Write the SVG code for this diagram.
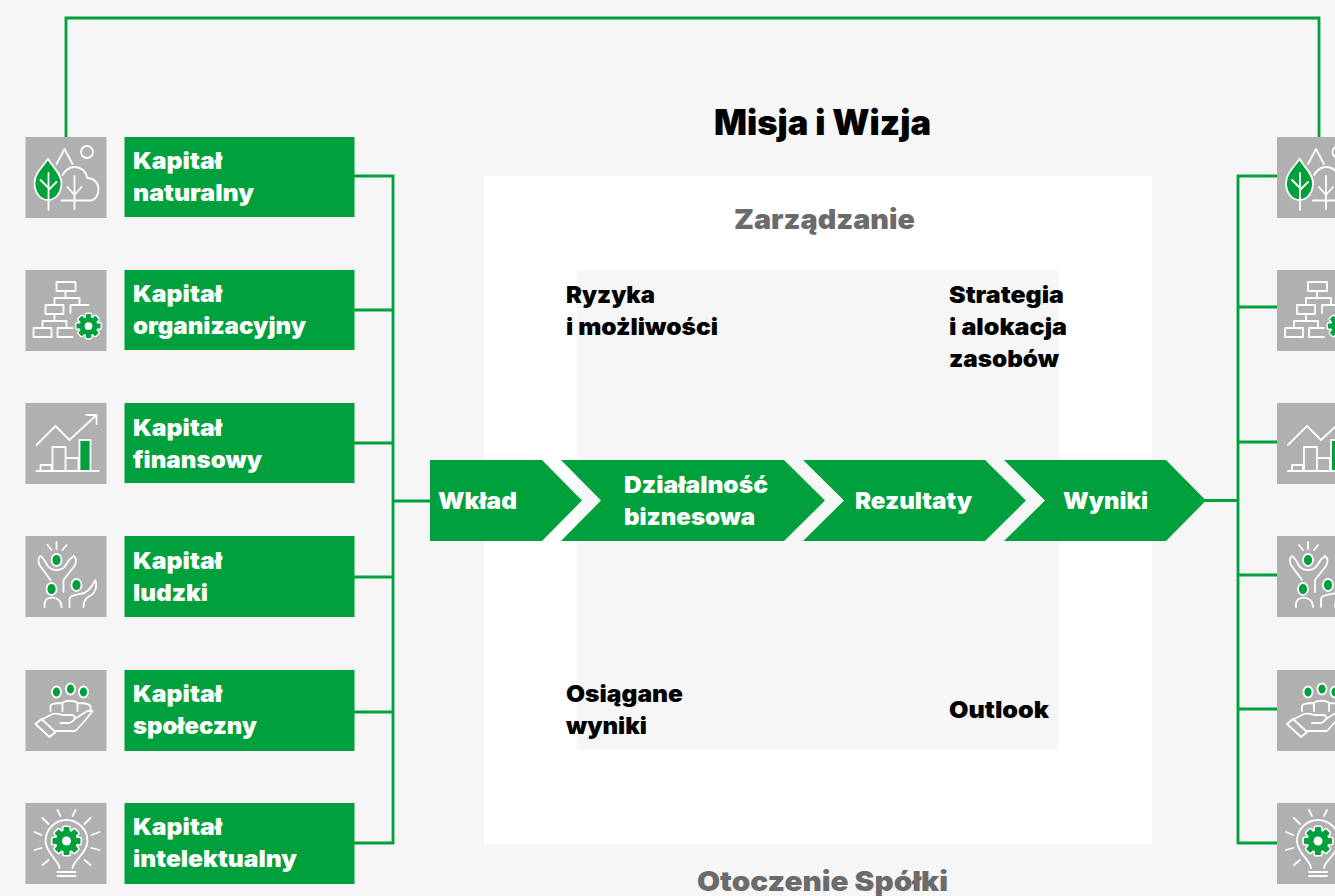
<svg xmlns="http://www.w3.org/2000/svg" xmlns:xlink="http://www.w3.org/1999/xlink" width="1335" height="896" viewBox="0 0 1335 896">
<style>
text{font-family:"Inter","Liberation Sans",sans-serif;font-weight:900}
.lbl{fill:#fff;font-size:23px}
.blk{fill:#000;font-size:23px}
.sec{fill:#6b6b6b;font-size:27.500px}
.g{fill:#00a03c}
.box{fill:#b0b0b0}
.ln{fill:none;stroke:#fff;stroke-width:1.800;stroke-linecap:round;stroke-linejoin:round}
.gf{fill:#00a03c;stroke:#fff;stroke-width:1.800}
.wf{fill:#fff}
.conn{fill:none;stroke:#00a03c;stroke-width:2.800}
</style>
<defs>
<g id="gs"><rect x="-3" y="-14" width="6" height="28" rx="1"/><rect x="-3" y="-14" width="6" height="28" rx="1" transform="rotate(45)"/><rect x="-3" y="-14" width="6" height="28" rx="1" transform="rotate(90)"/><rect x="-3" y="-14" width="6" height="28" rx="1" transform="rotate(135)"/><circle r="10.500"/></g>
<g id="gear"><use xlink:href="#gs" fill="#fff" stroke="#fff" stroke-width="3.200"/><use xlink:href="#gs" fill="#00a03c"/><circle r="4.500" class="wf"/></g>
<g id="ic1"><rect class="box" width="81" height="81"/>
<path class="gf" d="M22.500 22C16 31 9 37 9 46C9 56 15 63 22.500 63C30 63 36 56 36 46C36 37 28 31 22.500 22Z"/>
<path class="ln" d="M23 36V73M15 43L23 51M31 45L23 53M31 27L39 12L47 27"/><circle class="ln" cx="61.500" cy="15" r="6"/>
<path class="ln" d="M36 63.500H64C70 63.500 73 58 73 52C73 46 68 41 62 41C60 34 55 30 49 30C44 30 40 33 37 38M49 39V72M42 50L49 58L56 50"/></g>
<g id="ic2"><rect class="box" width="81" height="81"/>
<path class="ln" d="M31 12H50V21H31ZM40 21V28M29 35V28H54V34M20 35H38V44H20ZM45 43V35H63M29 44V51M17 58V51H41V58M8 58H26V67H8ZM47 58H32V67H47"/><use xlink:href="#gear" transform="translate(63 56) scale(.86)"/></g>
<g id="ic3"><rect class="box" width="81" height="81"/>
<path class="ln" d="M11 42L30 23L44 37L71 12M61 12H71V21M11 68H73M15 68V62H26V68M27 68V44H40V68M40 55H53V68"/><rect class="gf" x="54" y="37" width="11" height="31"/></g>
<g id="ic4"><rect class="box" width="81" height="81"/>
<path class="ln" d="M31 6V13M22 9L26 14M41 9L37 14M25 44L14 29C12 25 13 21 15 20C18 22 20 26 21 28C25 36 37 36 41 28C42 26 45 22 48 20C51 22 51 26 49 30L38 44V56M19 71V68C19 59 36 59 36 71M44 71V63C44 59 50 59 54 58C60 58 66 52 70 44C72 50 70 56 66 59C62 61 58 63 58 71"/>
<ellipse class="gf" cx="31" cy="24" rx="5" ry="6"/><ellipse class="gf" cx="26" cy="53" rx="5" ry="6"/><ellipse class="gf" cx="51" cy="49" rx="5" ry="6"/></g>
<g id="ic5"><rect class="box" width="81" height="81"/>
<ellipse class="gf" cx="31" cy="22" rx="4.500" ry="5.500"/><ellipse class="gf" cx="45" cy="19" rx="4.500" ry="5.500"/><ellipse class="gf" cx="58" cy="22" rx="4.500" ry="5.500"/>
<path class="ln" d="M25 41V36C25 33 33 33 37 33C40 30 49 30 52 33C56 33 65 33 65 37V41M37 33V41M52 33V41M10 54L16 49L30 62L24 67ZM17 49L27 44C30 43 34 44 37 45H46C49 45 50 47 49 49C48 51 47 52 44 53H35M49 49L62 41H67L60 50L50 61H29"/></g>
<g id="ic6"><rect class="box" width="81" height="81"/>
<path class="ln" d="M34 65C34 58 20 50 20 38C20 26 30 17 41 17C52 17 62 26 62 38C62 50 47 58 47 65M32 69H50M32 73H50M32 7L35 13M50 7L47 13M17 15L23 21M65 15L59 21M9 29L16 32M74 29L66 32M9 47L16 45M74 47L66 45M17 62L23 57M65 62L59 57"/><use xlink:href="#gear" transform="translate(41 38)"/></g>
</defs>
<rect width="1335" height="896" fill="#f6f6f6"/>
<g id="panel"><rect x="484" y="176" width="668" height="668" fill="#fff"/><rect x="577" y="270" width="482" height="480" fill="#f6f6f6"/></g>
<g id="connectors">
<path class="conn" d="M66 137V18H1319V137"/>
<path class="conn" d="M354 176H393V843H354M354 310H393M354 443H393M354 577H393M354 712H393M393 501H430"/>
<path class="conn" d="M1277 176H1238V843H1277M1277 307H1238M1277 442H1238M1277 575H1238M1277 709H1238M1205 500.500H1238"/>
</g>
<g id="title"><text x="714" y="135" font-size="35" textLength="217" lengthAdjust="spacingAndGlyphs">Misja i Wizja</text></g>
<g id="zarzadzanie"><text class="sec" x="734" y="229" textLength="181" lengthAdjust="spacingAndGlyphs">Zarządzanie</text></g>
<g id="otoczenie"><text class="sec" x="697" y="891" textLength="251" lengthAdjust="spacingAndGlyphs">Otoczenie Spółki</text></g>
<g id="ryzyka"><text class="blk" x="566" y="303" textLength="89" lengthAdjust="spacingAndGlyphs">Ryzyka</text><text class="blk" x="566" y="335" textLength="152" lengthAdjust="spacingAndGlyphs">i możliwości</text></g>
<g id="strategia"><text class="blk" x="949" y="303" textLength="115" lengthAdjust="spacingAndGlyphs">Strategia</text><text class="blk" x="949" y="335" textLength="118" lengthAdjust="spacingAndGlyphs">i alokacja</text><text class="blk" x="949" y="367" textLength="110" lengthAdjust="spacingAndGlyphs">zasobów</text></g>
<g id="osiagane"><text class="blk" x="566" y="702" textLength="117" lengthAdjust="spacingAndGlyphs">Osiągane</text><text class="blk" x="566" y="734" textLength="81" lengthAdjust="spacingAndGlyphs">wyniki</text></g>
<g id="outlook"><text class="blk" x="949" y="718" textLength="100" lengthAdjust="spacingAndGlyphs">Outlook</text></g>
<g id="wklad"><path class="g" d="M430 460H542L582 500.500L542 541H430Z"/><text class="lbl" x="438" y="509" textLength="79" lengthAdjust="spacingAndGlyphs">Wkład</text></g>
<g id="dzialalnosc"><path class="g" d="M561 460H784L825 500.500L784 541H561L601 500.500Z"/><text class="lbl" x="624" y="493" textLength="144" lengthAdjust="spacingAndGlyphs">Działalność</text><text class="lbl" x="624" y="525" textLength="131" lengthAdjust="spacingAndGlyphs">biznesowa</text></g>
<g id="rezultaty"><path class="g" d="M803 460H985L1026 500.500L985 541H803L844 500.500Z"/><text class="lbl" x="855" y="509" textLength="117" lengthAdjust="spacingAndGlyphs">Rezultaty</text></g>
<g id="wyniki"><path class="g" d="M1004 460H1166L1206 500.500L1166 541H1004L1045 500.500Z"/><text class="lbl" x="1063" y="509" textLength="85" lengthAdjust="spacingAndGlyphs">Wyniki</text></g>
<g id="k-naturalny"><use xlink:href="#ic1" x="25.500" y="137"/><rect class="g" x="124.500" y="137" width="230" height="80"/><text class="lbl" x="133" y="169" textLength="89" lengthAdjust="spacingAndGlyphs">Kapitał</text><text class="lbl" x="133" y="201" textLength="121" lengthAdjust="spacingAndGlyphs">naturalny</text></g>
<g id="k-organizacyjny"><use xlink:href="#ic2" x="25.500" y="270"/><rect class="g" x="124.500" y="270" width="230" height="80"/><text class="lbl" x="133" y="302" textLength="89" lengthAdjust="spacingAndGlyphs">Kapitał</text><text class="lbl" x="133" y="334" textLength="173" lengthAdjust="spacingAndGlyphs">organizacyjny</text></g>
<g id="k-finansowy"><use xlink:href="#ic3" x="25.500" y="403"/><rect class="g" x="124.500" y="403" width="230" height="80"/><text class="lbl" x="133" y="436" textLength="89" lengthAdjust="spacingAndGlyphs">Kapitał</text><text class="lbl" x="133" y="468" textLength="129" lengthAdjust="spacingAndGlyphs">finansowy</text></g>
<g id="k-ludzki"><use xlink:href="#ic4" x="25.500" y="536"/><rect class="g" x="124.500" y="536" width="230" height="81"/><text class="lbl" x="133" y="569" textLength="89" lengthAdjust="spacingAndGlyphs">Kapitał</text><text class="lbl" x="133" y="601" textLength="75" lengthAdjust="spacingAndGlyphs">ludzki</text></g>
<g id="k-spoleczny"><use xlink:href="#ic5" x="25.500" y="670"/><rect class="g" x="124.500" y="670" width="230" height="81"/><text class="lbl" x="133" y="702" textLength="89" lengthAdjust="spacingAndGlyphs">Kapitał</text><text class="lbl" x="133" y="734" textLength="124" lengthAdjust="spacingAndGlyphs">społeczny</text></g>
<g id="k-intelektualny"><use xlink:href="#ic6" x="25.500" y="803"/><rect class="g" x="124.500" y="803" width="230" height="81"/><text class="lbl" x="133" y="835" textLength="89" lengthAdjust="spacingAndGlyphs">Kapitał</text><text class="lbl" x="133" y="867" textLength="164" lengthAdjust="spacingAndGlyphs">intelektualny</text></g>
<g id="r-naturalny"><use xlink:href="#ic1" x="1277" y="137"/></g>
<g id="r-organizacyjny"><use xlink:href="#ic2" x="1277" y="270"/></g>
<g id="r-finansowy"><use xlink:href="#ic3" x="1277" y="403"/></g>
<g id="r-ludzki"><use xlink:href="#ic4" x="1277" y="536"/></g>
<g id="r-spoleczny"><use xlink:href="#ic5" x="1277" y="670"/></g>
<g id="r-intelektualny"><use xlink:href="#ic6" x="1277" y="803"/></g>
</svg>
